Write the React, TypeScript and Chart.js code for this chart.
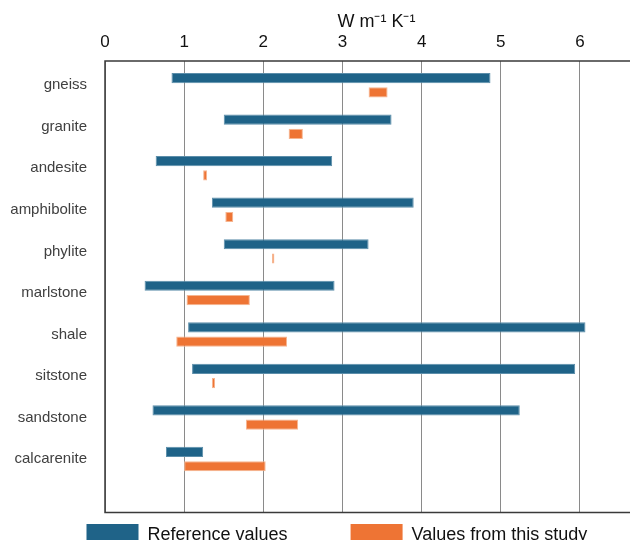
import React, { useEffect, useRef } from "react";
import { Chart, registerables } from "chart.js";

Chart.register(...registerables);

const categories = ["gneiss", "granite", "andesite", "amphibolite", "phylite", "marlstone", "shale", "sitstone", "sandstone", "calcarenite"];
const refMin = [0.84, 1.50, 0.64, 1.35, 1.50, 0.50, 1.05, 1.10, 0.60, 0.77];
const refMax = [4.87, 3.62, 2.87, 3.90, 3.33, 2.90, 6.07, 5.94, 5.24, 1.24];
const studyMin = [3.33, 2.32, 1.24, 1.52, 2.11, 1.03, 0.90, 1.35, 1.78, 1.00];
const studyMax = [3.57, 2.50, 1.29, 1.62, 2.14, 1.83, 2.30, 1.39, 2.44, 2.03];
const seriesLabels = ["Reference values", "Values from this study"];
const axisTitle = "W m\u207B\u00B9 K\u207B\u00B9";

const BLUE = "#1f6388";
const ORANGE = "#ee7434";
const FONT = 'Arial, "Liberation Sans", sans-serif';

const framePlugin = {
  id: "frame",
  afterDraw(chart: any) {
    const { ctx, chartArea } = chart;
    ctx.save();
    ctx.strokeStyle = "#3a3a3a";
    ctx.lineWidth = 1.5;
    ctx.beginPath();
    ctx.moveTo(chartArea.right, chartArea.top);
    ctx.lineTo(chartArea.left, chartArea.top);
    ctx.lineTo(chartArea.left, chartArea.bottom);
    ctx.lineTo(chartArea.right, chartArea.bottom);
    ctx.stroke();

    // legend
    ctx.font = "18px " + FONT;
    ctx.textBaseline = "alphabetic";
    let x = chartArea.left - 18.5;
    const y = chartArea.bottom + 11.5;
    chart.data.datasets.forEach((ds: any) => {
      ctx.fillStyle = ds.backgroundColor;
      ctx.fillRect(x, y, 52, 22);
      ctx.fillStyle = "#111";
      ctx.fillText(ds.label, x + 52 + 9, y + 16);
      x += 52 + 9 + ctx.measureText(ds.label).width + 63;
    });
    ctx.restore();
  },
};

export default function App() {
  const ref = useRef<HTMLCanvasElement>(null);
  useEffect(() => {
    if (!ref.current) return;
    Chart.defaults.font.family = FONT;
    const chart = new Chart(ref.current, {
      type: "bar",
      data: {
        datasets: [
          {
            label: seriesLabels[0],
            data: categories.map((_, i) => ({ y: i, x: [refMin[i], refMax[i]] })) as any,
            backgroundColor: BLUE,
            borderColor: "#5c8eaa",
            borderWidth: 1,
            borderSkipped: false,
            categoryPercentage: 0.688,
            barPercentage: 0.713,
          },
          {
            label: seriesLabels[1],
            data: categories.map((_, i) => ({ y: i, x: [studyMin[i], studyMax[i]] })) as any,
            backgroundColor: ORANGE,
            borderColor: "#f6b590",
            borderWidth: 1,
            borderSkipped: false,
            categoryPercentage: 0.688,
            barPercentage: 0.713,
          },
        ],
      },
      options: {
        indexAxis: "y",
        responsive: false,
        animation: false,
        layout: { padding: { top: 0, left: 0, right: 2, bottom: 27.5 } },
        plugins: {
          legend: { display: false },
          tooltip: { enabled: false },
        },
        scales: {
          x: {
            type: "linear",
            position: "top",
            min: 0,
            max: 6.86,
            ticks: {
              stepSize: 1,
              includeBounds: false,
              padding: 8,
              color: "#111",
              font: { size: 17 },
            },
            grid: { color: "#8a8a8a", lineWidth: 1, drawTicks: false },
            border: { display: false },
            title: {
              display: true,
              text: axisTitle,
              color: "#111",
              font: { size: 18 },
              padding: { top: 11, bottom: 0 },
            },
            afterFit: (s: any) => {
              s.height = 61;
            },
          },
          y: {
            type: "linear",
            reverse: true,
            offset: false,
            min: -0.582,
            max: 10.285,
            ticks: {
              stepSize: 1,
              includeBounds: false,
              autoSkip: false,
              padding: 18,
              color: "#404040",
              font: { size: 15 },
              callback: (v: any) => (Number.isInteger(v) && categories[v] ? categories[v] : ""),
            },
            grid: { display: false, drawTicks: false, offset: false },
            border: { display: false },
            afterFit: (s: any) => {
              s.width = 105;
            },
          },
        },
      } as any,
      plugins: [framePlugin],
    });
    return () => chart.destroy();
  }, []);

  return (
    <div style={{ position: "fixed", left: 0, top: 0, width: 630, height: 540, overflow: "hidden", background: "#fff" }}>
      <canvas ref={ref} width={650} height={540} style={{ width: 650, height: 540, display: "block" }} />
    </div>
  );
}
